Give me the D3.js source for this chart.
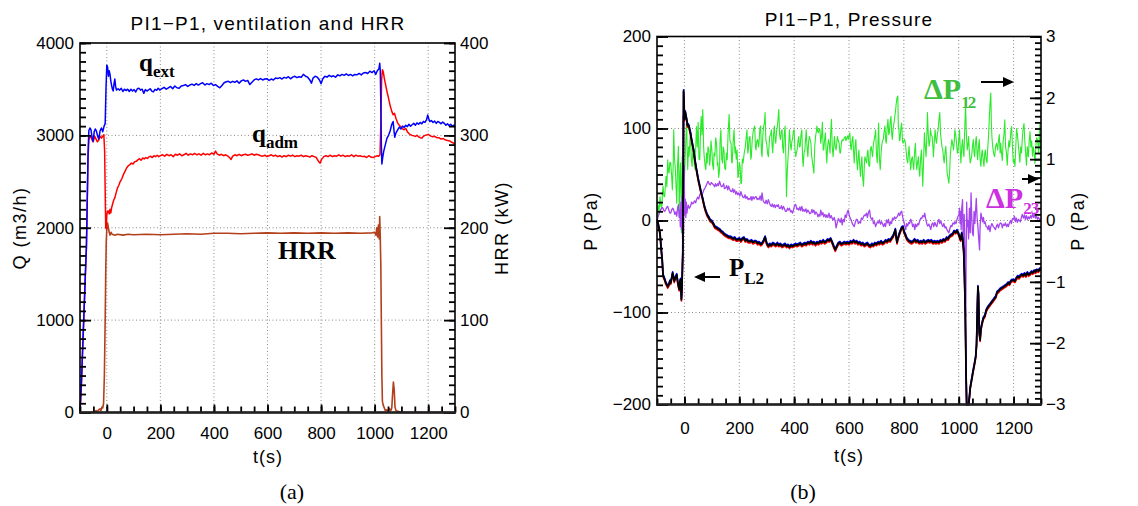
<!DOCTYPE html>
<html>
<head>
<meta charset="utf-8">
<script src="https://cdn.jsdelivr.net/npm/d3@7"></script>
<style>
  body { margin: 0; background: #fff; }
</style>
</head>
<body>
<script>
// ---- data (t in s, value) ----
const tMajor = [0, 200, 400, 600, 800, 1000, 1200];
const qTicks = [0, 1000, 2000, 3000, 4000];
const hrrTicks = [0, 100, 200, 300, 400];
const pTicks = [-200, -100, 0, 100, 200];
const dpTicks = [-3, -2, -1, 0, 1, 2, 3];

// extraction flow q_ext (m3/h)
const qExt = [[-100,0],[-95,300],[-90,700],[-85,1100],[-80,1500],[-76,1800],[-73,2300],[-70,2800],[-67,3050],[-63,3080],[-59,3060],[-55,2980],[-51,2935],[-47,3040],[-43,3070],[-39,3050],[-35,3000],[-30,2960],[-25,3050],[-20,3080],[-15,3040],[-10,3100],[-6,3130],[-3,3500],[0,3760],[3,3740],[6,3640],[9,3700],[12,3660],[15,3590],[18,3540],[21,3500],[24,3480],[27,3560],[30,3610],[33,3530],[36,3490],[42,3505],[48,3490],[54,3510],[60,3475],[66,3500],[72,3485],[78,3500],[84,3475],[90,3500],[96,3480],[102,3495],[108,3470],[114,3505],[120,3510],[126,3490],[132,3500],[138,3455],[144,3495],[150,3480],[156,3492],[162,3505],[168,3480],[174,3470],[180,3498],[186,3488],[192,3510],[198,3490],[206,3505],[214,3520],[222,3500],[230,3515],[238,3530],[246,3505],[254,3535],[262,3515],[270,3510],[278,3535],[286,3540],[294,3550],[302,3530],[310,3545],[318,3555],[326,3540],[334,3560],[342,3545],[350,3560],[358,3570],[366,3545],[374,3560],[382,3550],[390,3565],[398,3540],[406,3550],[414,3530],[422,3515],[430,3540],[438,3570],[446,3580],[454,3585],[462,3570],[470,3585],[478,3575],[486,3590],[494,3565],[502,3590],[510,3600],[518,3585],[526,3595],[534,3550],[542,3575],[550,3600],[558,3612],[566,3600],[574,3615],[582,3600],[590,3610],[598,3612],[606,3595],[614,3610],[622,3600],[630,3620],[638,3615],[646,3625],[654,3610],[662,3628],[670,3620],[678,3635],[686,3612],[694,3630],[702,3640],[710,3625],[718,3635],[726,3630],[734,3660],[742,3640],[750,3630],[758,3600],[764,3565],[770,3620],[778,3640],[786,3630],[794,3600],[800,3560],[806,3610],[814,3640],[822,3630],[830,3650],[838,3635],[846,3645],[854,3630],[862,3655],[870,3645],[878,3660],[886,3650],[894,3665],[902,3648],[910,3660],[918,3645],[926,3660],[934,3655],[942,3670],[950,3655],[958,3675],[966,3680],[974,3670],[982,3695],[990,3680],[998,3700],[1004,3660],[1010,3700],[1016,3720],[1019,3780],[1021,3700],[1023,3350],[1025,2900],[1027,2690],[1030,2760],[1034,2830],[1040,2900],[1046,2970],[1052,3000],[1058,3050],[1064,3120],[1069,3150],[1072,3060],[1075,2980],[1080,3030],[1086,3060],[1092,3090],[1098,3070],[1104,3100],[1110,3085],[1116,3110],[1122,3095],[1128,3120],[1134,3100],[1140,3115],[1146,3130],[1152,3110],[1158,3135],[1164,3120],[1170,3140],[1176,3125],[1182,3150],[1188,3140],[1194,3170],[1198,3220],[1202,3180],[1206,3150],[1212,3160],[1218,3140],[1224,3155],[1230,3130],[1236,3150],[1242,3140],[1248,3125],[1254,3145],[1260,3130],[1266,3110],[1272,3125],[1278,3105],[1284,3120],[1290,3100],[1296,3110],[1300,3095]];

// admission flow q_adm (m3/h)
const qAdm = [[-100,0],[-95,280],[-90,680],[-85,1080],[-80,1480],[-76,1780],[-73,2250],[-70,2750],[-67,2950],[-63,2980],[-59,2990],[-55,2950],[-51,2930],[-45,2990],[-40,2960],[-35,2930],[-30,2950],[-25,2990],[-20,2970],[-15,2990],[-11,3007],[-8,2830],[-6,2400],[-4,2000],[-2,1990],[0,2140],[3,2180],[6,2180],[9,2150],[12,2200],[15,2160],[18,2216],[22,2260],[26,2300],[30,2324],[35,2380],[40,2432],[45,2460],[50,2500],[56,2530],[62,2575],[68,2610],[74,2647],[80,2670],[86,2683],[92,2700],[98,2690],[104,2715],[110,2719],[116,2735],[122,2748],[128,2730],[134,2755],[140,2745],[146,2760],[152,2750],[158,2770],[164,2773],[170,2760],[176,2780],[182,2770],[188,2785],[194,2770],[200,2780],[208,2790],[216,2775],[224,2795],[232,2780],[240,2790],[248,2770],[256,2795],[264,2785],[272,2800],[280,2780],[288,2790],[296,2805],[304,2785],[312,2800],[320,2790],[328,2805],[336,2790],[344,2800],[352,2785],[360,2805],[368,2790],[376,2800],[384,2790],[392,2810],[400,2795],[406,2830],[412,2800],[420,2785],[428,2795],[436,2780],[444,2790],[452,2775],[458,2760],[464,2740],[470,2775],[478,2790],[486,2780],[494,2795],[502,2780],[510,2790],[518,2795],[526,2785],[534,2790],[542,2800],[550,2785],[558,2795],[566,2790],[574,2780],[582,2775],[590,2785],[598,2770],[606,2780],[614,2790],[622,2775],[630,2785],[638,2770],[646,2780],[654,2765],[662,2780],[670,2770],[678,2785],[686,2775],[694,2785],[702,2770],[710,2780],[718,2775],[726,2785],[734,2770],[742,2780],[750,2775],[758,2765],[766,2780],[774,2770],[782,2760],[790,2720],[796,2700],[802,2740],[810,2770],[818,2780],[826,2770],[834,2785],[842,2770],[850,2780],[858,2775],[866,2790],[874,2775],[882,2785],[890,2770],[898,2780],[906,2775],[914,2790],[922,2770],[930,2785],[938,2775],[946,2780],[954,2770],[962,2775],[970,2760],[978,2780],[986,2765],[994,2760],[1002,2770],[1010,2780],[1016,2775],[1020,2790],[1023,3100],[1026,3600],[1029,3710],[1032,3690],[1036,3620],[1040,3560],[1046,3475],[1052,3400],[1058,3320],[1064,3260],[1069,3223],[1074,3240],[1080,3180],[1086,3133],[1092,3110],[1098,3090],[1104,3070],[1110,3061],[1116,3075],[1122,3040],[1128,3020],[1134,3007],[1140,3000],[1146,2995],[1152,2989],[1158,3000],[1164,2985],[1170,2975],[1176,2970],[1182,2990],[1188,3000],[1194,3005],[1200,3011],[1208,2995],[1216,2985],[1224,2990],[1232,2975],[1240,2975],[1248,2960],[1256,2965],[1264,2950],[1272,2945],[1280,2940],[1288,2925],[1296,2915],[1300,2900]];

// heat release rate (kW)
const hrr = [[-100,0],[-60,0],[-50,0],[-45,1],[-40,2],[-35,1],[-30,3],[-25,4],[-22,2],[-18,6],[-15,5],[-12,10],[-9,40],[-6,100],[-4,150],[-2,185],[0,198],[3,205],[6,200],[9,195],[12,192],[16,195],[20,193],[30,192],[40,193],[60,192],[80,193],[100,192.5],[150,193],[200,192.5],[250,193],[300,193.5],[350,193],[400,194],[450,194],[500,193.5],[550,194],[600,194.5],[650,194],[700,194.5],[750,194],[800,194.5],[850,194],[900,194.5],[950,194],[990,194.5],[1000,195],[1005,192],[1008,200],[1011,190],[1014,203],[1017,188],[1019,212],[1021,190],[1023,160],[1025,100],[1027,40],[1029,12],[1032,8],[1036,5],[1040,2],[1046,3],[1050,1],[1055,4],[1060,2],[1064,5],[1067,20],[1070,33],[1073,25],[1076,6],[1080,2],[1090,1],[1100,0],[1300,0]];

// pressure P_L2 (Pa)
const pL2 = [[-100,0],[-97,-2],[-93,-8],[-89,-14],[-85,-30],[-81,-43],[-78,-59],[-75,-62],[-72,-64],[-68,-68],[-64,-70],[-61,-72],[-57,-70],[-53,-66],[-50,-68],[-46,-62],[-43,-57],[-41,-60],[-37,-66],[-33,-62],[-28,-59],[-24,-68],[-19,-75],[-16,-66],[-14,-64],[-12,-78],[-11,-86],[-9,-72],[-8,-60],[-6,-36],[-4,60],[-3,141],[-1,125],[0,110],[3,118],[6,113],[9,108],[11,103],[14,104],[17,102],[20,97],[22,95],[27,86],[33,77],[38,66],[44,55],[50,45],[56,37],[61,30],[67,23],[72,16],[78,10],[83,6],[89,3],[94,0],[100,-1],[106,-4],[111,-7],[117,-8],[122,-9],[128,-10],[134,-12],[139,-13],[145,-15],[150,-16],[156,-17],[161,-18],[167,-18],[172,-19],[178,-20],[183,-19],[189,-21],[194,-21],[200,-20],[206,-22],[211,-20],[217,-19],[222,-22],[228,-21],[233,-23],[239,-23],[245,-22],[250,-24],[256,-23],[261,-23],[267,-25],[272,-24],[278,-26],[283,-25],[289,-22],[294,-18],[300,-25],[306,-28],[311,-26],[317,-27],[322,-25],[328,-26],[333,-27],[339,-25],[344,-27],[350,-26],[356,-28],[361,-27],[367,-26],[372,-28],[378,-27],[383,-29],[389,-27],[394,-28],[400,-27],[406,-26],[411,-27],[417,-26],[422,-25],[428,-27],[433,-26],[439,-25],[444,-26],[450,-24],[456,-25],[461,-23],[467,-25],[472,-24],[478,-26],[483,-24],[489,-25],[494,-23],[500,-24],[506,-22],[511,-24],[517,-23],[522,-21],[528,-22],[533,-20],[539,-24],[544,-28],[550,-32],[556,-28],[561,-25],[567,-24],[572,-26],[578,-25],[583,-24],[589,-25],[594,-24],[600,-25],[606,-23],[611,-24],[617,-22],[622,-24],[628,-23],[633,-25],[639,-24],[644,-26],[650,-25],[656,-27],[661,-26],[667,-25],[672,-27],[678,-28],[683,-26],[689,-27],[694,-25],[700,-26],[706,-24],[711,-25],[717,-23],[722,-25],[728,-24],[733,-22],[739,-23],[744,-21],[750,-22],[756,-19],[761,-17],[767,-12],[769,-10],[772,-18],[775,-24],[778,-20],[783,-15],[788,-11],[792,-8],[797,-7],[800,-12],[806,-16],[811,-20],[817,-22],[822,-23],[828,-24],[833,-23],[839,-21],[844,-23],[850,-22],[856,-24],[861,-23],[867,-24],[872,-22],[878,-24],[883,-23],[889,-22],[894,-23],[900,-22],[906,-24],[911,-23],[917,-24],[922,-23],[928,-24],[933,-22],[939,-23],[944,-21],[950,-22],[956,-19],[961,-20],[967,-17],[972,-16],[978,-15],[983,-12],[989,-13],[994,-11],[1000,-15],[1004,-19],[1007,-21],[1011,-14],[1014,-20],[1018,-32],[1021,-60],[1024,-100],[1027,-170],[1029,-200],[1032,-205],[1036,-200],[1039,-192],[1042,-182],[1046,-175],[1050,-168],[1053,-163],[1058,-155],[1062,-148],[1065,-135],[1068,-95],[1070,-72],[1072,-80],[1075,-122],[1078,-130],[1081,-118],[1085,-112],[1090,-106],[1095,-104],[1100,-98],[1105,-95],[1110,-93],[1115,-91],[1120,-89],[1125,-87],[1130,-85],[1135,-83],[1140,-78],[1145,-77],[1150,-75],[1155,-74],[1160,-73],[1165,-72],[1170,-71],[1175,-70],[1180,-68],[1185,-69],[1190,-66],[1195,-65],[1200,-65],[1205,-66],[1210,-63],[1215,-61],[1220,-62],[1225,-60],[1230,-59],[1235,-60],[1240,-58],[1245,-60],[1250,-57],[1255,-59],[1260,-58],[1265,-56],[1270,-57],[1275,-55],[1280,-56],[1285,-54],[1290,-55],[1295,-53],[1300,-52]];

// pressure difference dP12 (Pa, right axis)
const dP12 = [[-100,0.05],[-96,0.25],[-93,0.1],[-89,0.39],[-86,0.25],[-83,0.18],[-80,0.45],[-78,0.56],[-75,0.4],[-72,0.39],[-69,0.6],[-67,0.72],[-64,0.55],[-61,0.99],[-58,0.8],[-56,0.77],[-53,0.95],[-50,0.94],[-47,0.75],[-44,0.5],[-41,0.9],[-39,1.48],[-36,1.0],[-33,0.83],[-30,0.5],[-28,0.28],[-25,0.9],[-22,1.21],[-20,0.6],[-19,0.07],[-16,0.8],[-14,0.94],[-12,0.3],[-11,-0.2],[-9,0.6],[-8,1.05],[-6,-0.48],[-3,0.07],[0,0.66],[3,1.05],[5,1.3],[8,1.7],[10,1.1],[12,0.83],[15,1.2],[17,1.05],[20,1.3],[22,1.48],[25,1.0],[28,0.88],[30,1.1],[33,1.2],[36,0.9],[39,0.83],[42,1.3],[44,1.53],[47,1.2],[50,1.6],[53,1.0],[56,0.99],[59,1.5],[61,1.7],[64,1.4],[67,1.81],[70,1.2],[72,1.05],[75,0.9],[78,0.83],[81,1.1],[83,0.94],[86,1.2],[89,1.15],[92,0.9],[94,0.99],[97,1.3],[100,1.15],[103,0.9],[106,0.83],[108,1.1],[111,1.05],[114,1.35],[117,1.26],[120,0.9],[122,0.94],[125,0.7],[128,0.83],[130,1.3],[133,1.48],[136,1.0],[139,0.94],[141,1.2],[144,1.15],[147,0.85],[150,0.83],[153,1.1],[156,0.99],[159,1.4],[163,1.73],[166,1.3],[170,1.26],[172,0.95],[174,0.94],[178,1.3],[181,1.48],[184,1.1],[186,1.2],[189,1.0],[192,1.15],[195,0.7],[197,0.72],[200,0.95],[203,0.88],[206,0.6],[208,0.61],[211,1.0],[214,0.94],[218,1.1],[222,1.2],[225,1.35],[228,1.48],[231,1.1],[233,1.15],[236,1.35],[239,1.37],[242,1.0],[244,1.04],[247,1.3],[250,1.43],[253,1.5],[256,1.54],[259,1.2],[261,1.15],[264,1.3],[267,1.32],[270,1.2],[272,1.26],[275,1.5],[278,1.54],[281,1.1],[283,1.04],[286,1.4],[289,1.54],[292,1.6],[294,1.76],[297,1.3],[300,1.26],[303,1.1],[306,1.04],[309,1.25],[311,1.37],[314,1.4],[317,1.48],[320,1.2],[322,1.1],[325,1.4],[328,1.54],[331,1.3],[333,1.26],[336,1.45],[339,1.54],[342,1.7],[344,1.81],[347,1.4],[350,1.32],[353,1.45],[356,1.48],[358,1.2],[361,1.1],[364,1.4],[367,1.54],[370,1.0],[372,0.39],[375,0.8],[378,1.04],[381,1.3],[383,1.48],[386,1.25],[389,1.15],[392,1.3],[394,1.32],[397,1.45],[400,1.48],[403,1.15],[406,1.04],[408,1.1],[411,1.15],[414,1.3],[417,1.37],[419,1.2],[422,1.21],[425,1.4],[428,1.48],[431,1.0],[433,0.88],[436,1.1],[439,1.15],[442,1.35],[444,1.48],[447,1.2],[450,1.04],[453,1.3],[456,1.37],[459,1.3],[461,1.26],[464,1.05],[467,0.94],[470,0.85],[472,0.77],[475,1.2],[478,1.37],[481,1.45],[483,1.54],[486,1.45],[489,1.43],[491,1.5],[494,1.48],[497,1.26],[500,1.37],[503,1.6],[506,1.15],[508,1.15],[511,1.32],[514,1.43],[517,1.1],[519,0.94],[522,1.2],[525,1.32],[528,1.25],[531,1.1],[533,1.4],[536,1.65],[539,1.2],[542,1.04],[545,1.25],[547,1.37],[550,1.2],[553,1.15],[556,1.3],[558,1.37],[561,1.3],[564,1.26],[567,1.1],[569,1.1],[572,1.25],[575,1.32],[578,1.3],[581,1.32],[583,1.35],[586,1.37],[589,1.3],[592,1.35],[595,1.38],[597,1.32],[600,1.38],[603,1.43],[606,1.2],[608,1.15],[611,1.3],[614,1.37],[617,1.1],[619,0.94],[622,1.2],[625,1.32],[628,1.0],[631,0.83],[634,1.05],[636,1.15],[639,0.9],[642,0.72],[645,0.95],[647,1.04],[650,0.7],[653,0.56],[656,0.9],[658,1.04],[661,0.99],[664,0.94],[667,1.1],[669,1.15],[672,0.9],[675,0.88],[678,1.15],[681,1.21],[684,1.1],[686,1.04],[689,1.25],[692,1.32],[695,1.4],[697,1.48],[700,1.1],[703,0.94],[706,1.3],[708,1.59],[711,1.0],[714,0.83],[717,1.1],[719,1.21],[722,1.3],[725,1.32],[728,1.45],[731,1.54],[734,1.3],[736,1.26],[739,1.5],[742,1.65],[745,1.4],[747,1.43],[750,1.6],[753,1.7],[756,1.4],[758,1.32],[761,1.5],[764,1.59],[767,1.7],[769,1.76],[772,1.9],[775,2.0],[778,2.03],[780,1.5],[782,1.48],[784,1.3],[786,1.32],[789,1.5],[792,1.59],[795,1.3],[797,1.26],[800,1.3],[803,1.32],[806,1.25],[808,1.15],[811,1.0],[814,0.94],[817,1.1],[819,1.21],[822,1.0],[825,0.83],[828,1.0],[831,1.04],[834,0.9],[836,0.83],[839,1.1],[842,1.26],[845,0.95],[847,0.83],[850,0.95],[853,1.04],[856,0.8],[858,0.72],[861,1.0],[864,1.15],[867,0.8],[869,0.56],[872,1.0],[875,1.43],[878,1.2],[881,1.04],[884,1.4],[886,1.76],[889,1.4],[892,1.21],[895,1.3],[897,1.48],[900,1.4],[903,1.37],[906,1.2],[908,1.04],[911,1.3],[914,1.48],[917,1.3],[919,1.26],[922,1.4],[925,1.48],[928,1.65],[931,1.76],[934,1.4],[936,1.32],[939,1.2],[942,1.15],[945,1.0],[947,0.94],[950,1.1],[953,1.21],[956,0.95],[958,0.77],[961,0.7],[964,0.61],[967,0.8],[969,1.04],[972,1.2],[975,1.32],[978,1.25],[981,1.15],[984,1.3],[986,1.48],[989,1.4],[992,1.26],[995,1.1],[997,1.1],[1000,1.3],[1003,1.48],[1006,1.1],[1008,0.94],[1011,1.2],[1014,1.32],[1017,1.1],[1019,1.04],[1022,1.5],[1025,1.87],[1028,1.4],[1031,1.15],[1034,1.25],[1036,1.37],[1039,1.1],[1042,0.94],[1045,1.0],[1047,1.04],[1050,1.2],[1053,1.32],[1056,1.1],[1058,1.04],[1061,1.25],[1064,1.37],[1067,1.1],[1069,0.99],[1072,1.2],[1075,1.32],[1078,1.0],[1081,0.88],[1084,1.1],[1086,1.15],[1089,1.0],[1092,0.88],[1095,1.1],[1097,1.15],[1100,1.0],[1103,0.94],[1106,1.2],[1108,1.32],[1111,1.6],[1114,1.9],[1117,2.08],[1119,1.6],[1121,1.37],[1124,1.2],[1127,1.1],[1131,1.04],[1134,1.2],[1138,1.26],[1142,1.15],[1145,1.3],[1148,1.4],[1151,1.1],[1153,1.26],[1156,1.1],[1159,0.98],[1162,1.3],[1165,1.4],[1168,1.64],[1171,1.2],[1174,1.1],[1177,0.9],[1180,1.15],[1183,1.3],[1186,1.2],[1190,1.45],[1193,1.53],[1196,1.2],[1199,0.95],[1202,1.0],[1205,0.88],[1208,1.2],[1211,1.5],[1214,1.4],[1217,1.26],[1220,1.1],[1223,0.95],[1226,1.2],[1229,1.1],[1232,1.35],[1235,1.5],[1238,1.58],[1241,1.3],[1244,1.1],[1247,0.9],[1250,1.2],[1254,1.04],[1257,1.3],[1260,1.45],[1263,1.2],[1266,1.3],[1269,1.05],[1272,1.2],[1275,1.1],[1278,0.93],[1281,1.2],[1284,1.35],[1288,1.3],[1291,1.1],[1294,1.4],[1296,1.58],[1298,1.0],[1300,0.7]];

// pressure difference dP23 (Pa, right axis)
const dP23 = [[-100,0],[-96,0.06],[-92,0.12],[-89,0.15],[-85,0.19],[-81,0.21],[-78,0.2],[-75,0.16],[-72,0.15],[-68,0.18],[-64,0.22],[-61,0.23],[-57,0.17],[-53,0.12],[-50,0.12],[-46,0.18],[-42,0.2],[-39,0.17],[-35,0.1],[-31,0.14],[-28,0.07],[-25,0.2],[-22,0.26],[-19,0.05],[-17,0.17],[-15,-0.1],[-13,0.3],[-11,-0.15],[-9,0.4],[-7,-0.3],[-5,1.7],[-4,0.6],[-3,-0.2],[-1,0.9],[1,0.1],[3,0.35],[5,0.05],[7,0.3],[9,0.12],[11,0.18],[14,0.25],[18,0.2],[22,0.23],[26,0.3],[30,0.27],[33,0.28],[37,0.32],[41,0.29],[44,0.34],[48,0.38],[52,0.35],[56,0.42],[60,0.45],[64,0.43],[67,0.45],[71,0.5],[75,0.53],[78,0.56],[82,0.6],[86,0.64],[90,0.6],[94,0.58],[98,0.62],[102,0.6],[106,0.58],[110,0.55],[113,0.6],[117,0.56],[121,0.6],[124,0.57],[128,0.64],[132,0.58],[135,0.55],[139,0.56],[143,0.6],[146,0.52],[150,0.53],[154,0.57],[158,0.5],[161,0.56],[165,0.51],[168,0.48],[172,0.47],[176,0.52],[179,0.46],[183,0.5],[187,0.43],[190,0.47],[194,0.42],[198,0.45],[202,0.4],[206,0.47],[210,0.41],[213,0.38],[217,0.37],[221,0.42],[224,0.36],[228,0.39],[232,0.34],[235,0.36],[239,0.34],[243,0.39],[246,0.33],[250,0.39],[254,0.35],[257,0.38],[261,0.39],[265,0.34],[268,0.36],[272,0.34],[276,0.4],[280,0.33],[283,0.45],[287,0.32],[290,0.3],[294,0.28],[298,0.33],[302,0.27],[306,0.34],[309,0.3],[313,0.25],[317,0.23],[320,0.27],[324,0.22],[328,0.26],[331,0.21],[335,0.25],[339,0.23],[342,0.26],[346,0.2],[350,0.2],[354,0.24],[357,0.18],[361,0.23],[365,0.19],[368,0.15],[372,0.15],[376,0.2],[379,0.17],[383,0.2],[387,0.14],[390,0.16],[394,0.12],[398,0.18],[402,0.25],[406,0.26],[410,0.18],[413,0.2],[417,0.17],[421,0.22],[424,0.16],[428,0.23],[432,0.15],[435,0.18],[439,0.15],[443,0.19],[446,0.13],[450,0.17],[454,0.14],[457,0.11],[461,0.12],[465,0.18],[468,0.13],[472,0.17],[476,0.1],[479,0.14],[483,0.12],[487,0.06],[490,0.1],[494,0.07],[497,0.17],[501,0.09],[505,0.13],[508,0.06],[512,0.1],[516,0.05],[519,0.09],[523,0.05],[527,0.12],[531,0.04],[535,0.08],[539,0.03],[542,0.01],[546,0.05],[550,-0.02],[553,-0.12],[557,-0.04],[561,0.03],[564,0.01],[568,-0.03],[572,0.04],[575,-0.07],[579,0.02],[583,-0.02],[586,0.09],[590,0.05],[594,0.14],[597,0.17],[601,0.08],[605,0.03],[608,0.01],[612,-0.05],[616,-0.08],[619,-0.1],[623,-0.03],[627,0.02],[631,0.01],[634,-0.05],[638,-0.02],[642,-0.04],[645,0.04],[649,0.02],[653,0.06],[656,0.09],[660,0.08],[664,0.12],[667,0.05],[671,0.13],[675,0.17],[678,0.06],[682,0.02],[686,0.04],[689,-0.05],[693,-0.02],[697,-0.1],[700,-0.06],[704,-0.02],[708,-0.04],[711,0.01],[715,-0.06],[719,-0.02],[722,-0.05],[726,-0.1],[730,-0.05],[733,-0.1],[737,0.01],[741,-0.04],[744,0.02],[748,-0.08],[752,-0.02],[755,-0.05],[759,0.04],[763,0.01],[766,0.06],[770,0.03],[774,0.05],[777,0.07],[781,0.12],[785,0.08],[788,0.13],[792,0.15],[796,0.05],[799,0.0],[803,-0.08],[807,-0.15],[810,-0.05],[814,-0.09],[818,-0.03],[821,-0.05],[825,0.02],[829,-0.03],[832,-0.1],[836,-0.06],[840,-0.15],[843,-0.06],[847,-0.1],[851,-0.05],[854,-0.07],[858,0.0],[862,0.04],[865,0.03],[869,0.08],[873,0.06],[876,0.12],[880,0.02],[884,-0.06],[887,-0.09],[891,-0.06],[895,-0.1],[898,-0.15],[902,-0.06],[906,-0.04],[909,-0.1],[913,-0.03],[917,-0.08],[920,-0.1],[924,-0.02],[928,0.02],[931,-0.05],[935,-0.01],[939,-0.07],[942,-0.1],[946,-0.05],[950,-0.12],[953,-0.1],[957,-0.15],[961,-0.18],[964,-0.2],[968,-0.13],[972,-0.08],[975,-0.1],[979,-0.04],[983,-0.06],[986,-0.02],[990,-0.05],[994,0.02],[997,0.06],[1001,0.1],[1003,0.2],[1005,-0.05],[1007,0.15],[1009,-0.15],[1011,0.2],[1014,0.34],[1016,-0.3],[1018,-0.53],[1020,0.1],[1022,-0.4],[1024,-1.0],[1026,-1.56],[1027,-0.6],[1029,0.3],[1031,-0.1],[1033,0.0],[1036,-0.3],[1039,0.2],[1042,-0.2],[1045,0.45],[1048,0.0],[1050,-0.2],[1053,-0.25],[1056,0.15],[1059,-0.05],[1062,0.2],[1064,0.36],[1067,0.05],[1070,-0.1],[1073,-0.3],[1076,-0.48],[1078,-0.1],[1081,0.12],[1084,0.05],[1087,-0.02],[1090,0.05],[1093,-0.05],[1096,-0.02],[1100,-0.1],[1103,-0.1],[1107,-0.15],[1110,-0.08],[1114,-0.18],[1117,-0.1],[1121,-0.05],[1126,-0.1],[1130,-0.12],[1134,-0.15],[1137,-0.1],[1141,-0.06],[1145,-0.12],[1148,-0.07],[1152,-0.04],[1156,-0.05],[1159,-0.12],[1163,-0.06],[1167,-0.08],[1170,-0.04],[1174,-0.1],[1178,-0.06],[1181,-0.1],[1185,-0.04],[1189,0.0],[1192,-0.05],[1196,0.03],[1200,0.02],[1203,0.07],[1207,-0.02],[1210,0.04],[1214,-0.03],[1218,0.02],[1221,0.0],[1225,-0.02],[1229,0.06],[1232,0.1],[1236,0.04],[1240,0.09],[1243,0.02],[1247,0.08],[1251,0.01],[1254,0.06],[1258,0.03],[1262,0.08],[1265,0.04],[1269,0.1],[1273,0.05],[1276,0.12],[1280,0.04],[1284,0.07],[1287,0.02],[1291,0.05],[1295,0.01],[1298,0.03],[1300,0.02]];

// ---- drawing ----
const sans = '"Liberation Sans", Arial, sans-serif';
const serif = '"Liberation Serif", "Times New Roman", serif';

const svg = d3.select('body').append('svg')
	.attr('width', 1138)
	.attr('height', 506);

const xA = d3.scaleLinear().domain([-100, 1300]).range([80, 455]);
const qA = d3.scaleLinear().domain([0, 4000]).range([412.5, 43]);
const hA = d3.scaleLinear().domain([0, 400]).range([412.5, 43]);
const xB = d3.scaleLinear().domain([-100, 1300]).range([657, 1041]);
const pB = d3.scaleLinear().domain([-200, 200]).range([404.5, 36.5]);
const dB = d3.scaleLinear().domain([-3, 3]).range([404.5, 36.5]);

const styleAxis = (g) => {
	g.select('.domain').remove();
	g.selectAll('line').attr('stroke', '#000').attr('stroke-width', 1.8);
	g.selectAll('text')
		.attr('fill', '#000')
		.style('font-family', sans)
		.style('font-size', '17px');
};

const panel = (id, x, yL, yR, yGrid, yLMajor, yRMajor, yLMinor, yRMinor, padX) => {
	const [x0, x1] = x.range();
	const [y0, y1] = yL.range();

	svg.append('clipPath').attr('id', id)
		.append('rect')
		.attr('x', x0 - 1).attr('y', y1 - 1)
		.attr('width', x1 - x0 + 2).attr('height', y0 - y1 + 2);

	const grid = svg.append('g')
		.attr('stroke', '#8a8a8a')
		.attr('stroke-width', 1)
		.attr('stroke-dasharray', '1,2.5');
	grid.selectAll('.gx').data(tMajor).join('line')
		.attr('x1', d => x(d)).attr('x2', d => x(d))
		.attr('y1', y1).attr('y2', y0);
	grid.selectAll('.gy').data(yGrid).join('line')
		.attr('x1', x0).attr('x2', x1)
		.attr('y1', d => yL(d)).attr('y2', d => yL(d));

	const layer = svg.append('g').attr('clip-path', `url(#${id})`);

	const axes = () => {
		svg.append('g').attr('transform', `translate(0,${y0})`)
			.call(d3.axisBottom(x).tickValues(d3.range(-100, 1301, 50)).tickSize(-6).tickFormat(''))
			.call(styleAxis);
		svg.append('g').attr('transform', `translate(0,${y0})`)
			.call(d3.axisBottom(x).tickValues(tMajor).tickSize(-8).tickPadding(padX).tickFormat(d3.format('d')))
			.call(styleAxis);
		svg.append('g').attr('transform', `translate(${x0},0)`)
			.call(d3.axisLeft(yL).tickValues(yLMinor).tickSize(-6).tickFormat(''))
			.call(styleAxis);
		svg.append('g').attr('transform', `translate(${x0},0)`)
			.call(d3.axisLeft(yL).tickValues(yLMajor).tickSize(-11).tickPadding(6).tickFormat(d3.format('d')))
			.call(styleAxis);
		svg.append('g').attr('transform', `translate(${x1},0)`)
			.call(d3.axisRight(yR).tickValues(yRMinor).tickSize(-6).tickFormat(''))
			.call(styleAxis);
		svg.append('g').attr('transform', `translate(${x1},0)`)
			.call(d3.axisRight(yR).tickValues(yRMajor).tickSize(-11).tickPadding(5).tickFormat(d3.format('d')))
			.call(styleAxis);

		svg.append('rect')
			.attr('x', x0).attr('y', y1)
			.attr('width', x1 - x0).attr('height', y0 - y1)
			.attr('fill', 'none')
			.attr('stroke', '#000')
			.attr('stroke-width', 1.6);
		svg.append('line')
			.attr('x1', x0 - 1).attr('x2', x1 + 1)
			.attr('y1', y0).attr('y2', y0)
			.attr('stroke', '#222').attr('stroke-width', 2.6);
	};

	return { layer, axes };
};

const addLine = (layer, data, x, y, color, width, dy = 0) => {
	layer.append('path')
		.datum(data)
		.attr('fill', 'none')
		.attr('stroke', color)
		.attr('stroke-width', width)
		.attr('stroke-linejoin', 'round')
		.attr('transform', dy ? `translate(0,${dy})` : null)
		.attr('d', d3.line().x(d => x(d[0])).y(d => y(d[1])));
};

// panel (a)
const pa = panel('clipA', xA, qA, hA, [1000, 2000, 3000], qTicks, hrrTicks,
	d3.range(0, 4001, 100), d3.range(0, 401, 10), 14);
addLine(pa.layer, hrr, xA, hA, '#b3401c', 1.6);
addLine(pa.layer, qAdm, xA, qA, '#ff0000', 1.5);
addLine(pa.layer, qExt, xA, qA, '#0000ff', 1.5);
pa.axes();

// panel (b)
const pb = panel('clipB', xB, pB, dB, [-100, 0, 100], pTicks, dpTicks,
	d3.range(-200, 201, 10), d3.range(-30, 31, 1).map(d => d / 10), 17);
addLine(pb.layer, dP12, xB, dB, '#2bea2b', 1.1);
addLine(pb.layer, dP23, xB, dB, '#a545ee', 1.3);
addLine(pb.layer, pL2, xB, pB, '#ff0000', 1.6, 1.4);
addLine(pb.layer, pL2, xB, pB, '#0000ff', 1.6, -1.1);
addLine(pb.layer, pL2, xB, pB, '#000000', 1.8);
pb.axes();

// titles and axis labels
const label = (x, y, text, size, rot, ls) => svg.append('text')
	.attr('transform', `translate(${x},${y})` + (rot ? ` rotate(${rot})` : ''))
	.attr('text-anchor', 'middle')
	.style('font-family', sans)
	.style('font-size', size + 'px')
	.style('letter-spacing', ls + 'px')
	.text(text);

label(268, 30, 'PI1\u2212P1, ventilation and HRR', 19, 0, 1.2);
label(849, 26, 'PI1\u2212P1, Pressure', 19, 0, 1.2);
label(268, 463, 't(s)', 18, 0, 1);
label(849, 462, 't(s)', 18, 0, 1);
label(26, 228, 'Q (m3/h)', 18, -90, 1.5);
label(508, 228, 'HRR (kW)', 18, -90, 1.5);
label(597, 221, 'P (Pa)', 18, -90, 1.5);
label(1084, 221, 'P (Pa)', 18, -90, 1.5);

svg.append('text').attr('x', 292).attr('y', 499).attr('text-anchor', 'middle')
	.style('font-family', serif).style('font-size', '22px').text('(a)');
svg.append('text').attr('x', 803).attr('y', 499).attr('text-anchor', 'middle')
	.style('font-family', serif).style('font-size', '22px').text('(b)');

// series annotations
const annot = (x, y, main, sub, size, subSize, subDy, color, subLs = 0) => {
	const t = svg.append('text')
		.attr('x', x).attr('y', y)
		.attr('fill', color)
		.style('font-family', serif)
		.style('font-weight', 'bold')
		.style('font-size', size + 'px');
	t.append('tspan').text(main);
	if (sub) {
		t.append('tspan').attr('dy', subDy)
			.style('font-size', subSize + 'px')
			.style('letter-spacing', subLs + 'px')
			.text(sub);
	}
};

annot(139, 71, 'q', 'ext', 25, 17, 6, '#000');
annot(252, 142, 'q', 'adm', 25, 17, 6, '#000');
annot(278, 259, 'HRR', null, 26, 0, 0, '#000');
annot(924, 99, '\u0394P', '12', 30, 17, 9, '#3fbf3f', -2);
annot(986, 208, '\u0394P', '23', 30, 17, 6, '#cc30e0', -1);
annot(729, 276, 'P', 'L2', 25, 17, 8, '#000');

const arrow = (xa, xb, y) => {
	const dir = Math.sign(xb - xa);
	svg.append('line')
		.attr('x1', xa).attr('x2', xb - dir * 8)
		.attr('y1', y).attr('y2', y)
		.attr('stroke', '#000').attr('stroke-width', 2);
	svg.append('path')
		.attr('d', `M${xb},${y} L${xb - dir * 11},${y - 5} L${xb - dir * 11},${y + 5} Z`)
		.attr('fill', '#000');
};
arrow(981, 1014, 82);
arrow(1022, 1039, 179);
arrow(720, 694, 277);
</script>
</body>
</html>
